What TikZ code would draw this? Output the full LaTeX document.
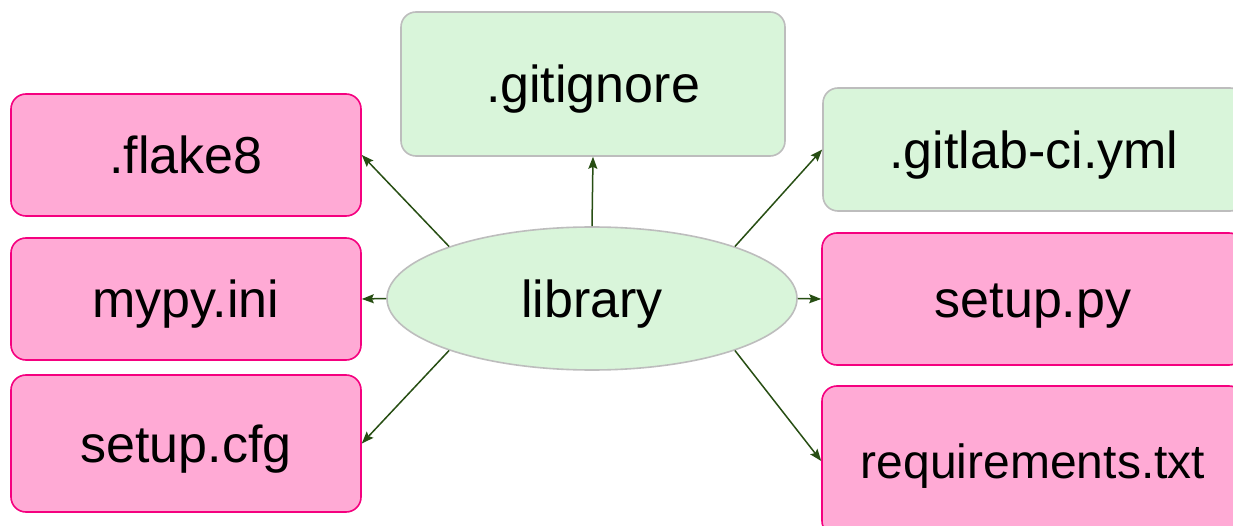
\documentclass[tikz,border=0pt]{standalone}
\usepackage{fontspec}
\setmainfont{Liberation Sans}
\usetikzlibrary{arrows.meta,shapes.geometric}
\definecolor{pinkfill}{HTML}{FFAAD5}
\definecolor{pinkline}{HTML}{F5007F}
\definecolor{greenfill}{HTML}{D9F5DA}
\definecolor{grayline}{HTML}{BDBDBD}
\definecolor{arrowgreen}{HTML}{274E13}
\tikzset{
  txt/.style={font=\fontsize{52}{60}\selectfont, text height=38pt, text depth=0pt},
  pinkbox/.style={draw=pinkline, fill=pinkfill, line width=1.6pt, rounded corners=15pt, inner sep=0pt, txt},
  greenbox/.style={draw=grayline, fill=greenfill, line width=1.6pt, rounded corners=15pt, inner sep=0pt, txt},
  arr/.style={draw=arrowgreen, line width=1.5pt, -{Stealth[length=12pt,width=9pt,inset=2pt]}}
}
\begin{document}
\begin{tikzpicture}[x=1pt,y=-1pt]
\clip (0,0) rectangle (1233,526);
\fill[white] (0,0) rectangle (1233,526);
\node[pinkbox, minimum width=350pt, minimum height=122pt] (flake) at (186,155) {.flake8};
\node[pinkbox, minimum width=350pt, minimum height=122pt] (mypy) at (186,299) {mypy.ini};
\node[pinkbox, minimum width=350pt, minimum height=137pt] (cfg) at (186,443.5) {setup.cfg};
\node[greenbox, minimum width=384pt, minimum height=144pt] (gitignore) at (593,84) {.gitignore};
\node[greenbox, minimum width=422pt, minimum height=123pt] (gitlab) at (1034,149.5) {.gitlab-ci.yml};
\node[pinkbox, minimum width=422pt, minimum height=132pt] (setuppy) at (1033,299) {setup.py};
\node[pinkbox, minimum width=422pt, minimum height=150pt, font=\fontsize{48}{56}\selectfont, text height=34pt] (req) at (1033,461) {requirements.txt};
\node[ellipse, draw=grayline, fill=greenfill, line width=1.6pt, minimum width=410pt, minimum height=143pt, inner sep=0pt,
  txt] (lib) at (592,298.5) {library};
\draw[arr] (lib.north) -- (gitignore.south);
\draw[arr] (lib.160) -- (flake.east);
\draw[arr] (lib.west) -- (mypy.east);
\draw[arr] (lib.200) -- (cfg.east);
\draw[arr] (lib.20) -- (gitlab.west);
\draw[arr] (lib.east) -- (setuppy.west);
\draw[arr] (lib.340) -- (req.west);
\end{tikzpicture}
\end{document}
